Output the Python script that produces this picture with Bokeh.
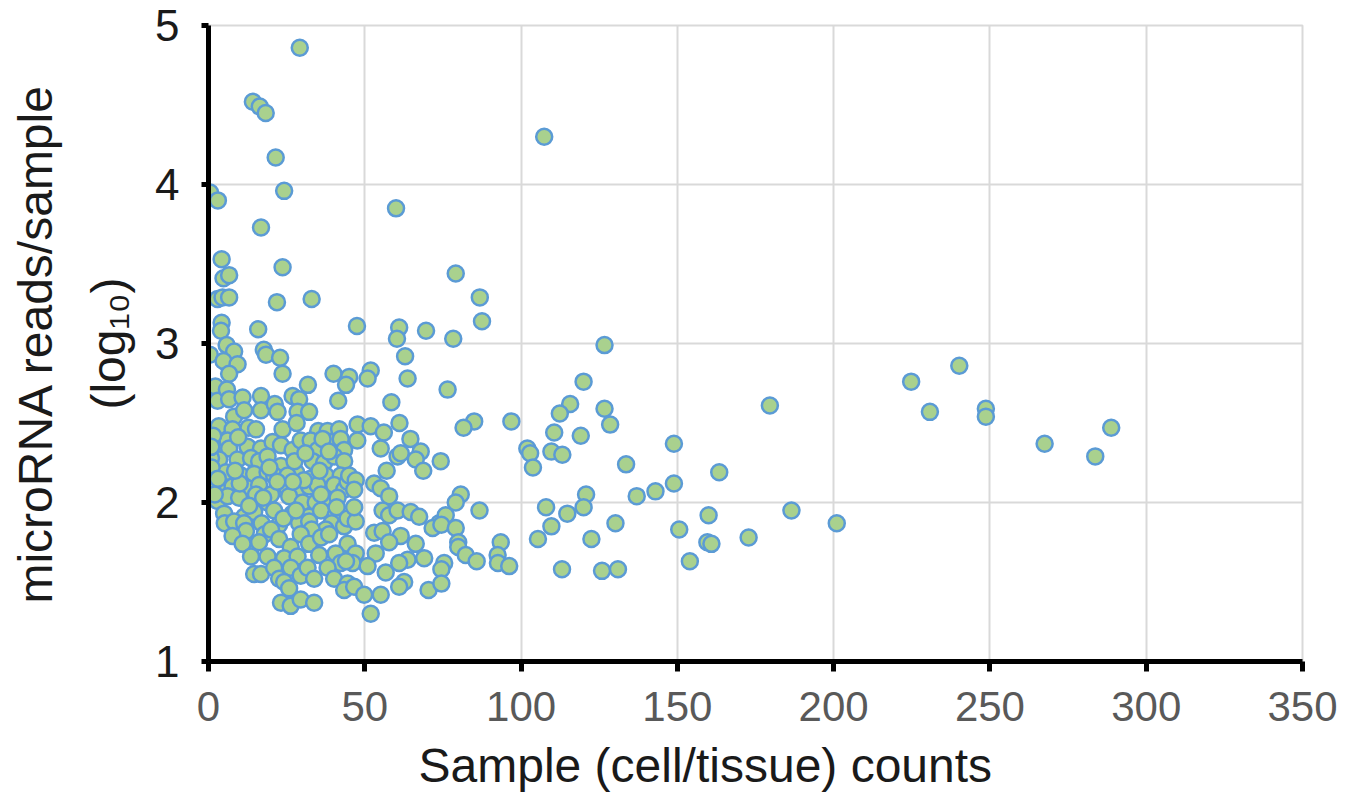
from bokeh.plotting import figure
from bokeh.models import FixedTicker, Range1d, Title
from bokeh.embed import file_html
from bokeh.resources import INLINE

# ---------------- data ----------------
# sparse upper-left points
counts_a = [29.2, 14.2, 16.4, 18.3, 21.5, 0.5, 3.0, 24.2, 16.8, 4.2,
            23.7, 4.8, 6.6, 2.9, 4.5, 6.6, 21.9, 33.0, 4.2, 4.0,
            15.9, 0.4, 5.8, 8.2, 4.8, 9.3, 6.6, 17.7, 18.4, 22.9,
            23.7, 40.0, 31.8, 2.2, 2.9, 5.9, 6.6, 10.9, 16.8, 16.8,
            21.2, 22.1, 26.9, 29.0, 28.5, 32.2, 41.5, 8.2, 11.4]
reads_a = [4.86, 4.52, 4.49, 4.45, 4.17, 3.95, 3.90, 3.96, 3.73, 3.53,
           3.48, 3.41, 3.43, 3.28, 3.29, 3.29, 3.26, 3.28, 3.13, 3.08,
           3.09, 2.93, 2.99, 2.95, 2.89, 2.87, 2.81, 2.96, 2.93, 2.91,
           2.81, 2.81, 2.74, 2.73, 2.64, 2.71, 2.65, 2.66, 2.67, 2.58,
           2.62, 2.57, 2.67, 2.65, 2.57, 2.57, 2.64, 2.54, 2.58]

# dense core (x < 45)
counts_core = [3.3, 7.7, 12.8, 15.2, 23.7, 28.2, 35.1, 38.1, 41.8,
               2.4, 6.1, 6.6, 12.5, 16.8, 20.5, 23.2, 26.9, 29.5, 32.7, 34.9, 39.1, 42.3, 43.4,
               3.4, 9.3, 13.6, 16.2, 18.9, 23.2, 28.0, 33.3, 37.0, 40.2, 43.4,
               1.8, 5.6, 10.4, 14.6, 18.9, 21.0, 25.3, 32.7, 37.5, 42.3,
               4.0, 7.7, 12.5, 16.2, 22.1, 25.3, 29.5, 32.2, 34.9, 40.2, 43.4,
               2.9, 6.1, 9.8, 15.2, 18.9, 25.8, 30.1, 34.3, 38.1, 41.3,
               5.0, 11.4, 14.6, 21.0, 26.9, 32.2, 36.0, 40.7,
               5.2, 8.2, 11.4, 17.0, 22.6, 29.0, 32.2, 39.4, 43.4,
               0.8, 1.0, 1.5, 1.2, 2.0, 0.9,
               10.0, 20.0, 27.5, 36.0, 31.0, 13.0, 24.0, 37.5, 18.0, 28.0,
               9.5, 19.5, 30.5, 36.5, 14.0,
               8.5, 17.5, 27.0, 35.5, 41.0, 12.0, 33.0, 22.0, 3.0, 38.5]
reads_core = [2.48, 2.46, 2.47, 2.46, 2.46, 2.50, 2.45, 2.45, 2.46,
              2.36, 2.39, 2.34, 2.35, 2.34, 2.38, 2.36, 2.33, 2.39, 2.39, 2.33, 2.38, 2.40, 2.33,
              2.27, 2.27, 2.28, 2.26, 2.29, 2.23, 2.19, 2.26, 2.25, 2.29, 2.26,
              2.18, 2.19, 2.17, 2.18, 2.19, 2.17, 2.17, 2.15, 2.17, 2.17,
              2.11, 2.10, 2.09, 2.11, 2.09, 2.09, 2.09, 2.10, 2.11, 2.11, 2.08,
              2.01, 2.04, 2.03, 2.05, 2.00, 2.04, 2.00, 2.00, 2.01, 2.03,
              1.93, 1.91, 1.94, 1.95, 1.93, 1.91, 1.95, 1.92,
              1.87, 1.88, 1.87, 1.87, 1.86, 1.87, 1.88, 1.87, 1.85,
              2.28, 2.22, 2.42, 2.10, 2.05, 2.35,
              2.12, 2.05, 2.26, 2.05, 2.31, 1.98, 1.90, 1.83, 1.80, 1.95,
              2.41, 2.22, 2.14, 2.40, 1.73,
              2.20, 2.03, 2.13, 2.20, 1.97, 1.82, 1.83, 2.13, 2.15, 2.32]

# lower part of the core
counts_low = [7.7, 10.9, 16.2, 20.0, 22.6, 26.3, 29.5, 32.2, 36.0, 38.6, 44.5,
              13.6, 18.9, 24.2, 28.5, 35.4, 40.7, 42.3,
              14.6, 16.8, 21.0, 22.6, 26.3, 24.2, 29.5, 31.7, 33.8, 38.1, 40.2, 44.5, 43.4, 25.8,
              23.2, 26.3, 29.5, 33.8]
reads_low = [1.79, 1.74, 1.75, 1.83, 1.77, 1.72, 1.80, 1.74, 1.78, 1.80, 1.74,
             1.66, 1.66, 1.65, 1.66, 1.67, 1.68, 1.62,
             1.55, 1.55, 1.59, 1.52, 1.59, 1.50, 1.54, 1.59, 1.52, 1.59, 1.52, 1.49, 1.45, 1.46,
             1.37, 1.35, 1.39, 1.37]

# middle band (44 < x < 75)
counts_mid = [47.5, 61.0, 60.3, 69.6, 60.0, 62.9, 63.7, 45.0, 44.0, 51.9, 50.9, 58.5,
              47.7, 51.9, 56.1, 61.1, 47.6, 55.1, 64.6, 67.9, 60.5, 61.5, 57.0, 66.3, 68.7,
              44.5, 45.0, 47.1, 46.6, 53.0, 55.1, 57.8,
              44.5, 47.1, 46.6, 55.7, 57.8, 60.5, 64.7, 67.4, 73.8,
              53.0, 55.7, 61.5, 57.8, 66.3, 71.7,
              47.1, 53.5, 46.1, 50.9, 56.7, 63.7, 61.0, 69.0, 44.0,
              46.6, 49.8, 55.1, 62.6, 61.0, 70.4, 51.9]
reads_mid = [3.11, 3.10, 3.03, 3.08, 3.85, 2.92, 2.78, 2.79, 2.74, 2.83, 2.78, 2.63,
             2.49, 2.48, 2.44, 2.50, 2.39, 2.34, 2.40, 2.32, 2.29, 2.31, 2.20, 2.27, 2.20,
             2.13, 2.17, 2.14, 2.08, 2.12, 2.09, 2.04,
             1.90, 1.88, 1.97, 1.95, 1.92, 1.95, 1.94, 1.91, 1.87,
             1.81, 1.82, 1.79, 1.75, 1.74, 1.84,
             1.68, 1.68, 1.62, 1.60, 1.56, 1.64, 1.62, 1.65, 1.63,
             1.47, 1.42, 1.42, 1.50, 1.47, 1.45, 1.30]

# wide spread (x > 74)
counts_wide = [107.4, 79.1, 86.8, 87.5, 78.3, 126.7, 76.5, 120.0, 115.7, 112.4,
               126.7, 128.5, 179.6, 85.0, 81.6, 96.9, 110.6, 119.1, 102.0, 102.9,
               103.8, 109.7, 113.2, 148.9, 133.6, 163.4, 148.9, 143.0, 137.0, 80.7,
               79.1, 74.3, 120.8, 120.0, 108.0, 114.8, 86.7, 75.9, 74.5, 79.1,
               109.7, 130.2, 160.0, 150.6, 186.5, 201.0, 105.4, 122.5, 93.5, 92.5,
               92.6, 96.2, 159.6, 160.9, 172.8, 154.0, 79.9, 79.9, 82.3, 85.8,
               75.4, 74.5, 74.5, 113.1, 125.9, 131.0,
               224.8, 240.2, 230.8, 248.7, 248.7, 267.5, 288.8, 283.7]
reads_wide = [4.30, 3.44, 3.29, 3.14, 3.03, 2.99, 2.71, 2.76, 2.62, 2.56,
              2.59, 2.49, 2.61, 2.51, 2.47, 2.51, 2.44, 2.42, 2.34, 2.31,
              2.22, 2.32, 2.30, 2.37, 2.24, 2.19, 2.12, 2.07, 2.04, 2.05,
              2.00, 2.26, 2.05, 1.97, 1.97, 1.93, 1.95, 1.92, 1.86, 1.84,
              1.85, 1.87, 1.92, 1.83, 1.95, 1.87, 1.77, 1.77, 1.75, 1.67,
              1.62, 1.60, 1.75, 1.74, 1.78, 1.63, 1.75, 1.72, 1.67, 1.63,
              1.62, 1.58, 1.49, 1.58, 1.57, 1.58,
              2.76, 2.86, 2.57, 2.59, 2.54, 2.37, 2.47, 2.29]

x_ticks = [0, 50, 100, 150, 200, 250, 300, 350]
y_ticks = [1, 2, 3, 4, 5]
x_title = "Sample (cell/tissue) counts"
y_title_1 = "microRNA reads/sample"
y_title_2 = "(log\u2081\u2080)"

sample_counts = counts_a + counts_core + counts_low + counts_mid + counts_wide
log_reads = reads_a + reads_core + reads_low + reads_mid + reads_wide
assert len(sample_counts) == len(log_reads)

# ---------------- layout ----------------
W, H = 1346, 811
FL, FR, FT, FB = 208, 1302, 25, 661   # frame edges in px
FONT = "Liberation Sans"
TITLE_COLOR = "#1a1a1a"

p = figure(width=W, height=H, x_range=Range1d(0, 350), y_range=Range1d(1, 5),
           output_backend="svg", toolbar_location=None,
           min_border_left=FL, min_border_right=W - FR,
           min_border_top=FT, min_border_bottom=H - FB)
p.background_fill_color = "white"
p.border_fill_color = "white"
p.outline_line_color = "#d9d9d9"
p.outline_line_width = 2

for g in (p.xgrid, p.ygrid):
    g.grid_line_color = "#d9d9d9"
    g.grid_line_width = 2

p.xaxis.ticker = FixedTicker(ticks=x_ticks)
p.yaxis.ticker = FixedTicker(ticks=y_ticks)
for ax in (p.xaxis, p.yaxis):
    ax.axis_line_color = "black"
    ax.axis_line_width = 5
    ax.major_tick_line_color = "black"
    ax.major_tick_line_width = 5
    ax.major_tick_in = 0
    ax.minor_tick_line_color = None
    ax.major_label_text_font = FONT

p.xaxis.major_tick_out = 10
p.xaxis.major_label_standoff = 20
p.xaxis.major_label_text_font_size = "42px"
p.xaxis.major_label_text_color = "#595959"

p.yaxis.major_tick_out = 7
p.yaxis.major_label_standoff = 22
p.yaxis.major_label_text_font_size = "44px"
p.yaxis.major_label_text_color = "#1a1a1a"

p.scatter(sample_counts, log_reads, size=16, line_width=2.5,
          line_color="#5B9BD5", fill_color="#A9D18E")

# axis titles as side-panel titles (not clipped by the frame)
p.add_layout(Title(text=x_title, align="left", offset=210, standoff=26,
                   text_font=FONT, text_font_size="48px", text_font_style="normal",
                   text_color=TITLE_COLOR), "below")
p.add_layout(Title(text=y_title_2, align="center", standoff=36,
                   text_font=FONT, text_font_size="48px", text_font_style="normal",
                   text_color=TITLE_COLOR), "left")
p.add_layout(Title(text=y_title_1, align="center", standoff=0,
                   text_font=FONT, text_font_size="48px", text_font_style="normal",
                   text_color=TITLE_COLOR), "left")

open("out.html", "w").write(file_html(p, INLINE))
